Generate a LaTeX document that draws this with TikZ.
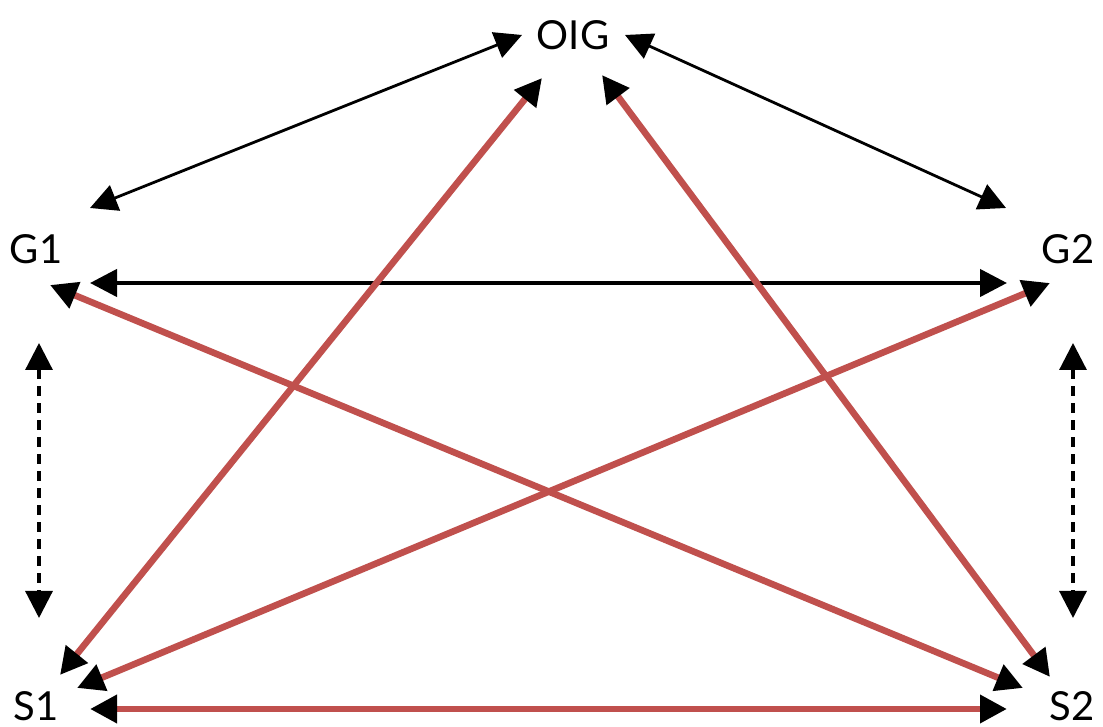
\documentclass[tikz,border=0pt]{standalone}
\usepackage{fontspec}
\setmainfont{Lato}
\usepackage{tikz}
\usetikzlibrary{arrows.meta}
\definecolor{lnRed}{HTML}{C0504D}

\begin{document}
\begin{tikzpicture}[
  x=0.5pt, y=0.5pt,
  lbl/.style={font=\fontsize{20}{24}\selectfont, inner sep=0pt},
  both/.style={{Triangle[length=13.5pt,width=13.5pt,color=black]}-{Triangle[length=13.5pt,width=13.5pt,color=black]}},
  arr/.style={both, line width=1.4pt},
  arrthick/.style={both, line width=2.2pt},
  arrdash/.style={both, line width=1.6pt, dash pattern=on 5pt off 3.5pt},
  arrred/.style={both, draw=lnRed, line width=3.3pt}
]
  \useasboundingbox (0,0) rectangle (1103,727);

  \node[lbl] (oig) at (573,692) {OIG};
  \node[lbl] (g1) at (36,478) {G1};
  \node[lbl] (g2) at (1068,478) {G2};
  \node[lbl] (s1) at (36,21) {S1};
  \node[lbl] (s2) at (1072,21) {S2};

  \draw[arr] ([shift={(-51,0)}]oig.center) -- ([shift={(54,41)}]g1.center);
  \draw[arr] ([shift={(52,0)}]oig.center) -- ([shift={(-62,41)}]g2.center);
  \draw[arrthick] ([shift={(54,-34)}]g1.center) -- ([shift={(-61,-34)}]g2.center);
  \draw[arrdash] ([shift={(3,-94)}]g1.center) -- ([shift={(3,88)}]s1.center);
  \draw[arrdash] ([shift={(5,-94)}]g2.center) -- ([shift={(1,88)}]s2.center);

  \draw[arrred] ([shift={(14,-36)}]g1.center) -- ([shift={(-49,18)}]s2.center);
  \draw[arrred] ([shift={(-18,-34)}]g2.center) -- ([shift={(41,18)}]s1.center);
  \draw[arrred] ([shift={(-31,-43)}]oig.center) -- ([shift={(24,31)}]s1.center);
  \draw[arrred] ([shift={(29,-40)}]oig.center) -- ([shift={(-22,29)}]s2.center);
  \draw[arrred] ([shift={(54,-3)}]s1.center) -- ([shift={(-65,-3)}]s2.center);
\end{tikzpicture}
\end{document}
